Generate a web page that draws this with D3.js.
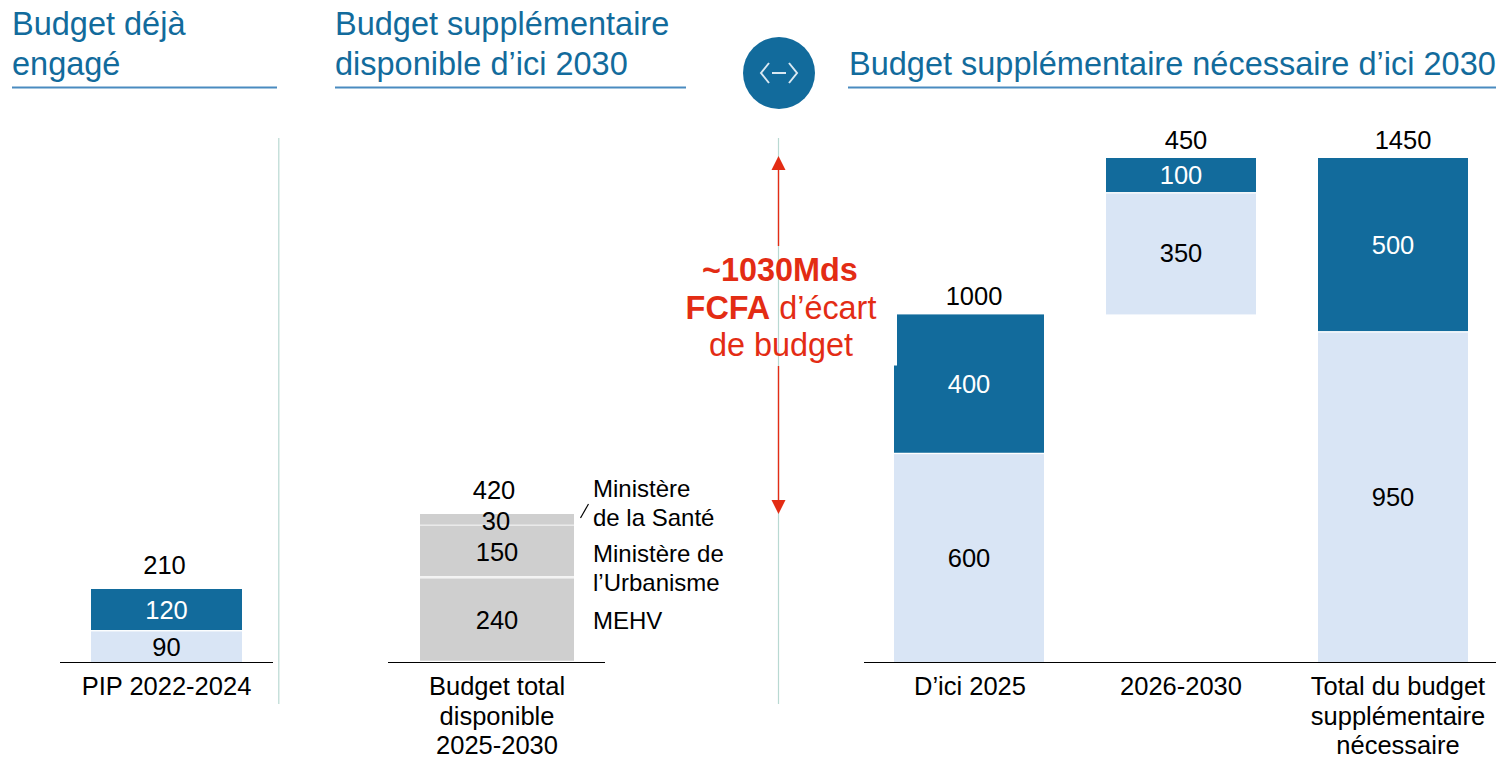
<!DOCTYPE html>
<html><head><meta charset="utf-8">
<script src="https://cdn.jsdelivr.net/npm/d3@7"></script>
<style>html,body{margin:0;padding:0;background:#fff}svg{display:block}text{font-family:"Liberation Sans",Arial,sans-serif}</style>
</head><body><svg id="c" width="1501" height="760"></svg>
<script>
const DARK="#126B9C",LIGHT="#D9E5F5",GREY="#CFCFCF",RED="#E32C14",RULE="#4A8BC0",SEP="#B9D9D2";
// Data
const engagedCats=["PIP 2022-2024"];
const engagedLight=[90];
const engagedDark=[120];
const engagedTotals=[210];
const availCats=["Budget total disponible 2025-2030"];
const availSeries=["MEHV","Ministère de l’Urbanisme","Ministère de la Santé"];
const availValues=[240,150,30];
const availTotals=[420];
const neededCats=["D’ici 2025","2026-2030","Total du budget supplémentaire nécessaire"];
const neededLight=[600,350,950];
const neededDark=[400,100,500];
const neededBase=[0,1000,0];
const neededTotals=[1000,450,1450];
const gapLabel=["~1030Mds","FCFA","d’écart","de budget"];
const headers=[["Budget déjà","engagé"],["Budget supplémentaire","disponible d’ici 2030"],["Budget supplémentaire nécessaire d’ici 2030"]];

const svg=d3.select("#c");
const y=d3.scaleLinear().domain([0,1450]).range([662,158]);
const yA=d3.scaleLinear().domain([0,420]).range([662,514]);
const xE=d3.scaleBand().domain(engagedCats).range([91,242]);
const xA=d3.scaleBand().domain(availCats).range([420,574]);
const xN=d3.scaleBand().domain(neededCats).range([894,1468]).paddingInner(62/212);

const NUM=25.5,LAB=25.5;
function txt(x,yy,s,o={}){return svg.append("text").attr("x",x).attr("y",yy).attr("text-anchor",o.a||"middle")
 .attr("font-size",o.fs||NUM).attr("fill",o.c||"#000").attr("font-weight",o.w||"normal").text(s);}
function bar(sc,x,w,lo,hi,c,seam,gap){
 const g=gap||0.7;
 const top=sc(hi)+(seam==="lower"?g:0), bot=sc(lo)-(seam==="upper"?g:0);
 svg.append("rect").attr("x",x).attr("width",w).attr("y",top).attr("height",bot-top).attr("fill",c);}

// headers
const hc="#126B9C",hfs=32.5;
txt(12,35,headers[0][0],{a:"start",fs:hfs,c:hc});txt(12,75,headers[0][1],{a:"start",fs:hfs,c:hc});
txt(335,35,headers[1][0],{a:"start",fs:hfs,c:hc});txt(335,75,headers[1][1],{a:"start",fs:hfs,c:hc});
txt(849,75,headers[2][0],{a:"start",fs:hfs,c:hc});
[[12,277],[335,686],[848,1496]].forEach(r=>svg.append("line").attr("x1",r[0]).attr("x2",r[1]).attr("y1",87.5).attr("y2",87.5).attr("stroke",RULE).attr("stroke-width",2));

// circle icon
svg.append("circle").attr("cx",779).attr("cy",73).attr("r",36).attr("fill",DARK);
svg.append("path").attr("d","M769 63L761 73L769 83M789 63L797 73L789 83M772 73H786").attr("fill","none").attr("stroke","#D9E8F2").attr("stroke-width",2);

// separators
[278.8,778.5].forEach(x=>svg.append("line").attr("x1",x).attr("x2",x).attr("y1",138).attr("y2",704).attr("stroke",SEP).attr("stroke-width",1.2));

// engaged bars
engagedCats.forEach((c,i)=>{const x=xE(c),w=xE.bandwidth();
 bar(y,x,w,0,engagedLight[i],LIGHT,"lower");
 bar(y,x,w,engagedLight[i],engagedLight[i]+engagedDark[i],DARK,"upper");
 txt(x+w/2,(y(0)+y(engagedLight[i]))/2+10,engagedLight[i]);
 txt(x+w/2,(y(engagedLight[i])+y(engagedTotals[i]))/2+9,engagedDark[i],{c:"#fff"});
 txt(x+w/2-2,y(engagedTotals[i])-15,engagedTotals[i]);
 txt(x+w/2,695,c,{fs:LAB});
});
// available bars
let cum=0;const aw=xA.bandwidth(),ax=xA(availCats[0]);
availValues.forEach((v,i)=>{
 bar(yA,ax,aw,cum,cum+v,GREY,i<availValues.length-1?"upper":null,1.2);
 if(i<availValues.length-1) svg.append("rect").attr("x",ax).attr("width",aw).attr("y",yA(cum+v)).attr("height",1).attr("fill","#fff");
 const mid=(yA(cum)+yA(cum+v))/2;
 txt(ax+aw/2+(i==2?-1:0),mid+(i==2?11:i==1?10:9),v);cum+=v;});
txt(ax+aw/2-3,yA(availTotals[0])-15,availTotals[0]);
["Budget total","disponible","2025-2030"].forEach((s,i)=>txt(ax+aw/2,695+i*29.7,s,{fs:LAB}));
// series labels
const SER=24;
txt(593,497,"Ministère",{a:"start",fs:SER});txt(593,526,"de la Santé",{a:"start",fs:SER});
txt(593,562,"Ministère de",{a:"start",fs:SER});txt(593,591,"l’Urbanisme",{a:"start",fs:SER});
txt(593,629,availSeries[0],{a:"start",fs:SER});
svg.append("line").attr("x1",580.5).attr("x2",588.5).attr("y1",518).attr("y2",504).attr("stroke","#000").attr("stroke-width",1.2);

// needed bars
neededCats.forEach((c,i)=>{const x=xN(c),w=xN.bandwidth(),b=neededBase[i];
 bar(y,x,w,b,b+neededLight[i],LIGHT,"lower");
 bar(y,x,w,b+neededLight[i],b+neededLight[i]+neededDark[i],DARK,"upper");
 const yl=(y(b)+y(b+neededLight[i]))/2, yd=(y(b+neededLight[i])+y(b+neededTotals[i]))/2;
 txt(x+w/2,yl+(i==1?8:9),neededLight[i]);
 txt(x+w/2,yd+9,neededDark[i],{c:"#fff"});
 txt(x+w/2+[5,5,10][i],y(b+neededTotals[i])-9,neededTotals[i]);
});
// notch on top-left of first bar
svg.append("rect").attr("x",xN(neededCats[0])).attr("width",3).attr("y",y(1000)-1).attr("height",y(853)-y(1000)+1).attr("fill","#fff");
txt(970,695,"D’ici 2025",{fs:LAB});
txt(1181,695,"2026-2030",{fs:LAB});
["Total du budget","supplémentaire","nécessaire"].forEach((s,i)=>txt(1398,695+i*29.7,s,{fs:LAB}));

// baselines
[[60,273],[388,605],[864,1496]].forEach(r=>svg.append("line").attr("x1",r[0]).attr("x2",r[1]).attr("y1",662.5).attr("y2",662.5).attr("stroke","#000").attr("stroke-width",1.2));

// gap arrow
svg.append("line").attr("x1",778.5).attr("x2",778.5).attr("y1",170).attr("y2",246).attr("stroke",RED).attr("stroke-width",1.4);
svg.append("line").attr("x1",778.5).attr("x2",778.5).attr("y1",366).attr("y2",502).attr("stroke",RED).attr("stroke-width",1.4);
svg.append("path").attr("d","M778.5 156L771.5 170H785.5Z").attr("fill",RED);
svg.append("path").attr("d","M778.5 514L771.5 500H785.5Z").attr("fill",RED);
const GF=32.4;
txt(780,281,gapLabel[0],{fs:GF,c:RED,w:"bold"});
const t=txt(781,318.5,"",{fs:GF,c:RED});
t.append("tspan").attr("font-weight","bold").text(gapLabel[1]);
t.append("tspan").text(" "+gapLabel[2]);
txt(781,356,gapLabel[3],{fs:GF,c:RED});
</script></body></html>
